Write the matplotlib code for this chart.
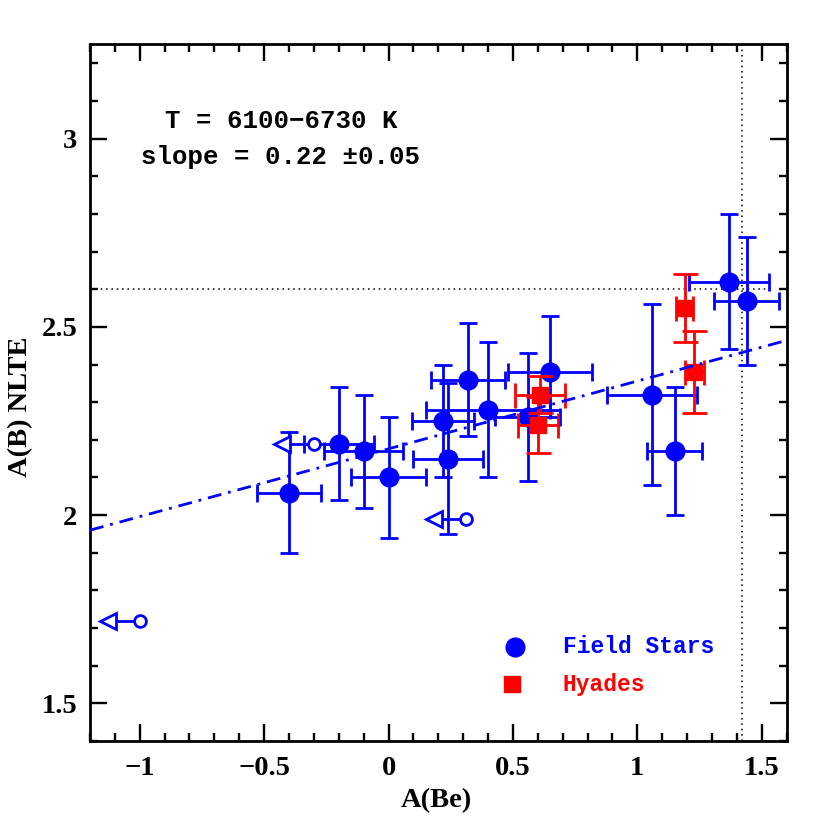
import matplotlib
matplotlib.use("Agg")
import matplotlib.pyplot as plt
from matplotlib.ticker import MultipleLocator, FuncFormatter

# ---- data ----
field_x = [-0.40, -0.20, -0.10, 0.00, 0.22, 0.24, 0.32, 0.40, 0.56, 0.65, 1.06, 1.15, 1.37, 1.44]
field_y = [2.06, 2.19, 2.17, 2.10, 2.25, 2.15, 2.36, 2.28, 2.26, 2.38, 2.32, 2.17, 2.62, 2.57]
field_xerr = [0.13, 0.14, 0.16, 0.15, 0.125, 0.14, 0.15, 0.25, 0.13, 0.17, 0.18, 0.11, 0.16, 0.13]
field_yerr_lo = [0.16, 0.15, 0.15, 0.16, 0.15, 0.20, 0.15, 0.18, 0.17, 0.10, 0.24, 0.17, 0.18, 0.17]
field_yerr_hi = [0.16, 0.15, 0.15, 0.16, 0.15, 0.20, 0.15, 0.18, 0.17, 0.15, 0.24, 0.17, 0.18, 0.17]

hyades_x = [0.61, 0.60, 1.19, 1.23]
hyades_y = [2.32, 2.24, 2.55, 2.38]
hyades_xerr = [0.10, 0.08, 0.035, 0.04]
hyades_yerr = [0.05, 0.075, 0.09, 0.11]

limit_x = [-1.00, -0.30, 0.31]
limit_y = [1.72, 2.19, 1.99]
limit_len = 0.155

fit_x = [-1.2, 1.6]
fit_y = [1.96, 2.464]

sun_B = 2.6
sun_B_xend = 1.535
met_Be = 1.42

BLUE = (0, 0, 1)
RED = (1, 0, 0)

fig = plt.figure(figsize=(8.3, 8.3), dpi=100)
ax = fig.add_axes([90 / 830, 1 - 741 / 830, 696.5 / 830, 696.5 / 830])
ax.set_xlim(-1.2, 1.6)
ax.set_ylim(1.4, 3.25)

# reference dotted lines
ax.plot([-1.2, sun_B_xend], [sun_B, sun_B], color='black', lw=1.1, ls=(0, (1, 2.5)), zorder=1)
ax.axvline(met_Be, color='black', lw=1.1, ls=(0, (1, 2.5)), zorder=1)

# field stars
ax.errorbar(field_x, field_y, xerr=field_xerr, yerr=[field_yerr_lo, field_yerr_hi], fmt='o',
            color=BLUE, ms=13.5, mec=BLUE, mfc=BLUE, elinewidth=2.0, capsize=6.8,
            capthick=2.0, zorder=3)

# upper limits
for lx, ly in zip(limit_x, limit_y):
    tip = lx - limit_len
    ax.plot([lx, tip], [ly, ly], color=BLUE, lw=2.0, zorder=3)
    ax.plot([tip + 0.028], [ly], marker='<', ms=12, mfc='white', mec=BLUE, mew=2.0, zorder=4)
    ax.plot([lx], [ly], marker='o', ms=8.5, mfc='white', mec=BLUE, mew=2.0, zorder=4)

# hyades
ax.errorbar(hyades_x, hyades_y, xerr=hyades_xerr, yerr=hyades_yerr, fmt='s', color=RED,
            ms=12, mec=RED, mfc=RED, elinewidth=2.0, capsize=9, capthick=2.0, zorder=5)

# fit line
ax.plot(fit_x, fit_y, color=BLUE, lw=2.0, ls=(0, (5, 2.5, 1, 2.5)), zorder=6)

# axes styling
for s in ax.spines.values():
    s.set_linewidth(2.0)
ax.xaxis.set_major_locator(MultipleLocator(0.5))
ax.xaxis.set_minor_locator(MultipleLocator(0.1))
ax.yaxis.set_major_locator(MultipleLocator(0.5))
ax.yaxis.set_minor_locator(MultipleLocator(0.1))
fmt = FuncFormatter(lambda v, p: ('%g' % v).replace('-', '\u2212'))
ax.xaxis.set_major_formatter(fmt)
ax.yaxis.set_major_formatter(fmt)
ax.tick_params(which='both', direction='in', top=True, right=True, width=1.7)
ax.tick_params(which='major', length=12)
ax.tick_params(which='minor', length=6)
ax.tick_params(axis='x', which='major', pad=11)
ax.tick_params(axis='y', which='major', pad=9)
for lab in ax.get_xticklabels() + ax.get_yticklabels():
    lab.set_fontfamily('Liberation Serif')
    lab.set_fontweight('bold')
    lab.set_fontsize(20.5)

ax.set_xlabel('A(Be)', fontfamily='Liberation Serif', fontweight='bold', fontsize=20.5)
ax.set_ylabel('A(B) NLTE', fontfamily='Liberation Serif', fontweight='bold', fontsize=20.5)
ax.xaxis.set_label_coords(0.498, -0.085)
ax.xaxis.label.set_va('center')
ax.yaxis.set_label_coords(-0.1, 0.48)
ax.yaxis.label.set_va('center')

mono = dict(family='Liberation Mono', fontweight='bold', transform=ax.transAxes, ha='center', va='center')
ax.text(0.274, 0.890, 'T = 6100\u22126730 K', fontsize=18.5, **mono)
ax.text(0.274, 0.838, 'slope = 0.22 \u00b10.05', fontsize=18.5, **mono)

# legend
ax.plot([0.610], [0.135], marker='o', ms=13.5, color=BLUE, transform=ax.transAxes, clip_on=False)
ax.plot([0.606], [0.0818], marker='s', ms=12, color=RED, transform=ax.transAxes, clip_on=False)
leg = dict(family='Liberation Mono', fontweight='bold', transform=ax.transAxes, ha='left', va='center', fontsize=16.5)
ax.text(0.679, 0.135, 'Field Stars', color=BLUE, **leg)
ax.text(0.679, 0.0818, 'Hyades', color=RED, **leg)

fig.savefig('out.png', dpi=100)
